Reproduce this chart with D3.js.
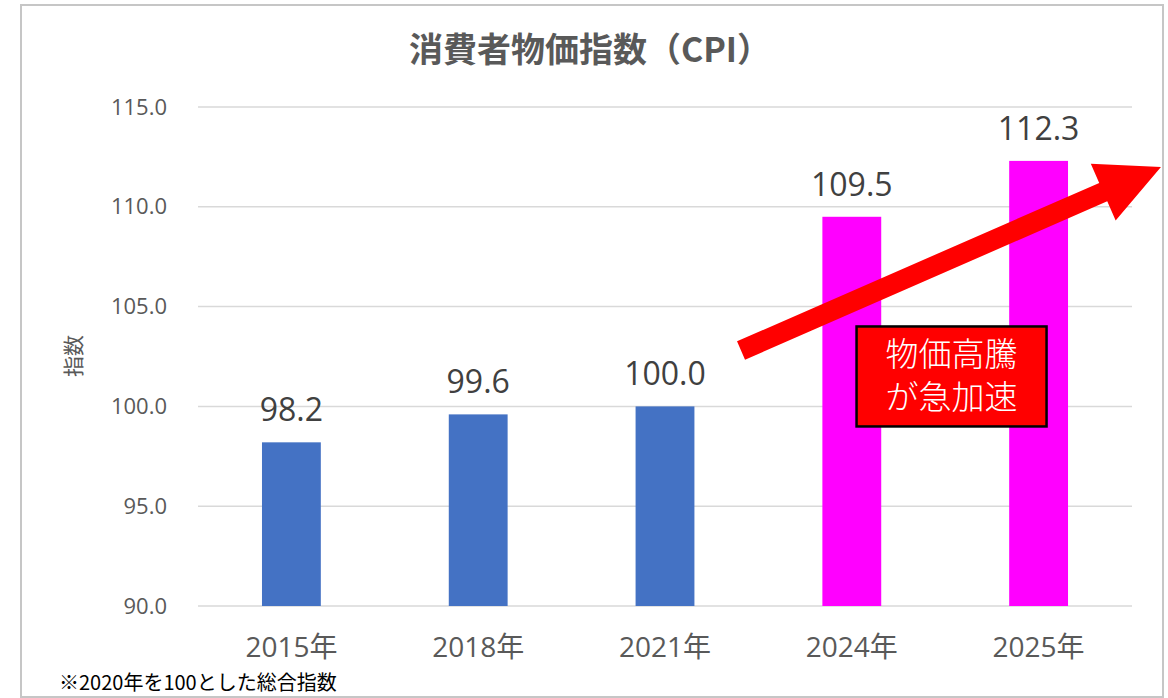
<!DOCTYPE html>
<html>
<head>
<meta charset="utf-8">
<script src="https://cdn.jsdelivr.net/npm/d3@7"></script>
<style>
  body { margin: 0; background: #fff; }
  text { font-family: "Open Sans", "Noto Sans CJK JP", sans-serif; }
  .jp { font-family: "Noto Sans CJK JP", sans-serif; }
</style>
</head>
<body>
<svg id="chart" width="1168" height="698"></svg>
<script>
// data
const years = ["2015年", "2018年", "2021年", "2024年", "2025年"];
const cpi = [98.2, 99.6, 100.0, 109.5, 112.3];
const barColors = ["#4472C4", "#4472C4", "#4472C4", "#FF00FF", "#FF00FF"];
const yTicks = [90, 95, 100, 105, 110, 115];

const svg = d3.select("#chart");

// chart frame
svg.append("rect")
    .attr("x", 21).attr("y", 5)
    .attr("width", 1142).attr("height", 692)
    .attr("fill", "#fff")
    .attr("stroke", "#c6c6c6")
    .attr("stroke-width", 2);

const margin = { top: 107, right: 36, bottom: 92, left: 198 },
    width = 1168 - margin.left - margin.right,
    height = 698 - margin.top - margin.bottom;

const g = svg.append("g")
    .attr("transform", `translate(${margin.left},${margin.top})`);

const x = d3.scaleBand().domain(years).range([0, width]).padding(0);
const y = d3.scaleLinear().domain([90, 115]).range([height, 0]);

// gridlines
g.selectAll(".grid")
    .data(yTicks)
    .enter().append("line")
    .attr("x1", 0).attr("x2", width)
    .attr("y1", d => y(d)).attr("y2", d => y(d))
    .attr("stroke", "#d9d9d9")
    .attr("stroke-width", 1.5);

// y axis
const yAxis = g.append("g")
    .call(d3.axisLeft(y).tickValues(yTicks).tickFormat(d3.format(".1f")).tickSize(0).tickPadding(31));
yAxis.select(".domain").remove();
yAxis.selectAll("text")
    .attr("fill", "#595959")
    .style("font-size", "22px");

// x axis
const xAxis = g.append("g")
    .attr("transform", `translate(0,${height})`)
    .call(d3.axisBottom(x).tickSize(0).tickPadding(31));
xAxis.select(".domain").remove();
xAxis.selectAll("text")
    .attr("fill", "#595959")
    .style("font-size", "28px");

// bars
const barW = x.bandwidth() * 0.315;
g.selectAll(".bar")
    .data(cpi)
    .enter().append("rect")
    .attr("class", "bar")
    .attr("x", (d, i) => x(years[i]) + x.bandwidth() / 2 - barW / 2)
    .attr("y", d => y(d))
    .attr("width", barW)
    .attr("height", d => height - y(d))
    .attr("fill", (d, i) => barColors[i]);

// value labels
g.selectAll(".val")
    .data(cpi)
    .enter().append("text")
    .attr("x", (d, i) => x(years[i]) + x.bandwidth() / 2)
    .attr("y", d => y(d) - 21)
    .attr("text-anchor", "middle")
    .attr("fill", "#404040")
    .style("font-size", "32px")
    .text(d => d.toFixed(1));

// title
svg.append("text")
    .attr("class", "jp")
    .attr("x", 590).attr("y", 62)
    .attr("text-anchor", "middle")
    .attr("fill", "#595959")
    .style("font-size", "34px")
    .style("font-weight", "bold")
    .text("消費者物価指数（CPI）");

// y axis title
svg.append("text")
    .attr("class", "jp")
    .attr("transform", "translate(81,356) rotate(-90)")
    .attr("text-anchor", "middle")
    .attr("fill", "#595959")
    .style("font-size", "21px")
    .text("指数");

// footnote
svg.append("text")
    .attr("class", "jp")
    .attr("x", 59).attr("y", 690)
    .attr("fill", "#000")
    .style("font-size", "20px")
    .text("※2020年を100とした総合指数");

// arrow annotation (positions in category steps / index values)
const step = x.step();
const tail = [2.907 * step, y(102.8)];
const tip = [5.155 * step, y(112.0)];
const ang = Math.atan2(tip[1] - tail[1], tip[0] - tail[0]);
const len = Math.hypot(tip[0] - tail[0], tip[1] - tail[1]);
const shaft = 10, head = 31, headLen = 63;
const arrowPath = [
    [0, -shaft], [len - headLen, -shaft], [len - headLen, -head],
    [len, 0], [len - headLen, head], [len - headLen, shaft], [0, shaft]
];
g.append("path")
    .attr("d", d3.line()(arrowPath) + "Z")
    .attr("transform", `translate(${tail[0]},${tail[1]}) rotate(${ang * 180 / Math.PI})`)
    .attr("fill", "#FF0000");

// callout box
const boxCx = 4.034 * step, boxCy = y(101.5);
const box = g.append("g").attr("transform", `translate(${boxCx},${boxCy})`);
box.append("rect")
    .attr("x", -95).attr("y", -50)
    .attr("width", 190).attr("height", 100)
    .attr("fill", "#FF0000")
    .attr("stroke", "#000")
    .attr("stroke-width", 2.5);
const callout = box.append("text")
    .attr("class", "jp")
    .attr("text-anchor", "middle")
    .attr("fill", "#fff")
    .style("font-size", "33px")
    .style("font-weight", 300);
callout.selectAll("tspan")
    .data(["物価高騰", "が急加速"])
    .enter().append("tspan")
    .attr("x", 0)
    .attr("y", (d, i) => -10 + i * 43)
    .text(d => d);
</script>
</body>
</html>
